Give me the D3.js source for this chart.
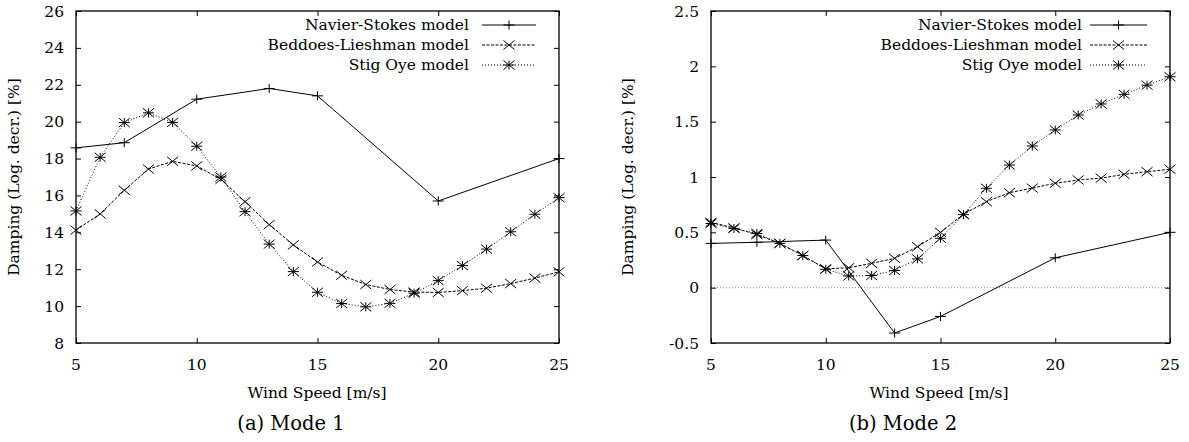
<!DOCTYPE html>
<html lang="en">
<head>
    <meta charset="UTF-8">
    <title>Damping vs wind speed</title>
    <script src="https://d3js.org/d3.v7.min.js"></script>
    <style>
        body { margin: 0; background: #fff; }
        path.line { fill: none; stroke: #000; stroke-width: 1; }
        path.mark { fill: none; stroke: #000; stroke-width: 1; }
    </style>
</head>
<body>
<script>
    const width  = 1189;
    const height = 442;

    // wind speeds
    const windNS   = [5, 7, 10, 13, 15, 20, 25];
    const windFine = [5, 6, 7, 8, 9, 10, 11, 12, 13, 14, 15, 16, 17, 18, 19, 20, 21, 22, 23, 24, 25];
    const xTicks   = [5, 10, 15, 20, 25];

    // mode 1
    const mode1NS   = [18.58, 18.86, 21.22, 21.8, 21.4, 15.7, 18.0];
    const mode1BL   = [14.12, 15.0, 16.28, 17.43, 17.85, 17.6, 16.87, 15.66, 14.42, 13.32, 12.39, 11.67, 11.17, 10.9, 10.76, 10.74, 10.84, 10.97, 11.22, 11.52, 11.86];
    const mode1Oye  = [15.16, 18.07, 19.95, 20.48, 19.96, 18.67, 17.0, 15.12, 13.36, 11.87, 10.75, 10.14, 9.96, 10.15, 10.7, 11.38, 12.2, 13.09, 14.03, 14.98, 15.88];
    const mode1YTicks = [8, 10, 12, 14, 16, 18, 20, 22, 24, 26];

    // mode 2
    const mode2NS   = [0.40, 0.41, 0.43, -0.41, -0.26, 0.27, 0.50];
    const mode2BL   = [0.59, 0.54, 0.48, 0.40, 0.29, 0.17, 0.18, 0.22, 0.265, 0.37, 0.50, 0.663, 0.777, 0.858, 0.90, 0.943, 0.973, 0.99, 1.024, 1.048, 1.07];
    const mode2Oye  = [0.58, 0.535, 0.49, 0.40, 0.29, 0.166, 0.106, 0.11, 0.155, 0.26, 0.446, 0.66, 0.898, 1.108, 1.28, 1.425, 1.56, 1.66, 1.747, 1.83, 1.906];
    const mode2YTicks = [-0.5, 0, 0.5, 1, 1.5, 2, 2.5];

    const seriesNames = ["Navier-Stokes model", "Beddoes-Lieshman model", "Stig Oye model"];

    const font = "'DejaVu Serif', serif";

    const svg = d3.select("body").append("svg").attr("width", width).attr("height", height);

    function label(g, x, y, str, anchor, rot, size) {
        g.append("text")
         .attr("transform", "translate(" + [x, y] + ")" + (rot ? " rotate(" + rot + ")" : ""))
         .attr("text-anchor", anchor || "middle")
         .attr("font-family", font)
         .attr("font-size", size || 15.5)
         .attr("fill", "#000")
         .text(str);
    }

    function marker(g, type, x, y) {
        const w = 5.5, h = 4.5;
        let d = "";
        if (type === "plus" || type === "star") d += "M" + (x - w) + "," + y + "H" + (x + w) + "M" + x + "," + (y - h) + "V" + (y + h);
        if (type === "cross" || type === "star") d += "M" + (x - w) + "," + (y - h) + "L" + (x + w) + "," + (y + h) + "M" + (x - w) + "," + (y + h) + "L" + (x + w) + "," + (y - h);
        g.append("path").attr("class", "mark").attr("d", d);
    }

    const styles = [
        {dash: null,    mark: "plus"},
        {dash: "3,1.5", mark: "cross"},
        {dash: "1,2",   mark: "star"}
    ];

    function panel(opt) {
        const g = svg.append("g");
        const x = d3.scaleLinear().domain([5, 25]).range([opt.left, opt.right]);
        const y = d3.scaleLinear().domain(opt.yDomain).range([343, 11]);

        // zero line
        if (opt.zero) {
            g.append("line")
             .attr("x1", opt.left).attr("x2", opt.right)
             .attr("y1", y(0)).attr("y2", y(0))
             .attr("stroke", "#888").attr("stroke-width", 1).attr("stroke-dasharray", "1,2");
        }

        // axes with inward ticks on all four sides
        const bottom = g.append("g").attr("transform", "translate(0,343)")
            .call(d3.axisBottom(x).tickValues(xTicks).tickSize(-5).tickSizeOuter(0).tickFormat(""));
        const top = g.append("g").attr("transform", "translate(0,11)")
            .call(d3.axisTop(x).tickValues(xTicks).tickSize(-5).tickSizeOuter(0).tickFormat(""));
        const left = g.append("g").attr("transform", "translate(" + opt.left + ",0)")
            .call(d3.axisLeft(y).tickValues(opt.yTicks).tickSize(-5).tickSizeOuter(0).tickFormat(""));
        const right = g.append("g").attr("transform", "translate(" + opt.right + ",0)")
            .call(d3.axisRight(y).tickValues(opt.yTicks).tickSize(-5).tickSizeOuter(0).tickFormat(""));
        [bottom, top, left, right].forEach(a => {
            a.select(".domain").remove();
            a.selectAll("line").attr("stroke", "#000");
        });

        g.append("rect")
         .attr("x", opt.left).attr("y", 11)
         .attr("width", opt.right - opt.left).attr("height", 332)
         .attr("fill", "none").attr("stroke", "#000").attr("stroke-width", 1.3);

        xTicks.forEach(v => label(g, x(v), 370, String(v)));
        opt.yTicks.forEach(v => label(g, opt.left - 12, y(v) + 5.5, String(v), "end"));

        label(g, opt.xLabelX, 398, "Wind Speed [m/s]");
        label(g, opt.yLabelX, 177, "Damping (Log. decr.) [%]", "middle", -90);
        label(g, opt.capX, 430, opt.caption, "middle", 0, 19.5);

        const line = d3.line().x(d => x(d[0])).y(d => y(d[1]));
        opt.series.forEach((s, i) => {
            const pts = s.xs.map((v, j) => [v, s.ys[j]]);
            g.append("path").attr("class", "line")
             .attr("d", line(pts))
             .attr("stroke-dasharray", styles[i].dash);
            pts.forEach(p => marker(g, styles[i].mark, x(p[0]), y(p[1])));
        });

        // legend
        seriesNames.forEach((name, i) => {
            const ly = 25 + i * 20;
            label(g, opt.legText, ly + 5, name, "end");
            g.append("line")
             .attr("x1", opt.legLine[0]).attr("x2", opt.legLine[1])
             .attr("y1", ly).attr("y2", ly)
             .attr("stroke", "#000").attr("stroke-width", 1)
             .attr("stroke-dasharray", styles[i].dash);
            marker(g, styles[i].mark, (opt.legLine[0] + opt.legLine[1]) / 2, ly);
        });
    }

    panel({
        left: 76, right: 559, yDomain: [8, 26], yTicks: mode1YTicks,
        xLabelX: 317, yLabelX: 19, capX: 291, caption: "(a) Mode 1",
        legText: 469, legLine: [482, 536],
        series: [
            {xs: windNS, ys: mode1NS},
            {xs: windFine, ys: mode1BL},
            {xs: windFine, ys: mode1Oye}
        ]
    });

    panel({
        left: 711, right: 1170, yDomain: [-0.5, 2.5], yTicks: mode2YTicks, zero: true,
        xLabelX: 939, yLabelX: 633, capX: 903, caption: "(b) Mode 2",
        legText: 1082, legLine: [1090, 1147],
        series: [
            {xs: windNS, ys: mode2NS},
            {xs: windFine, ys: mode2BL},
            {xs: windFine, ys: mode2Oye}
        ]
    });
</script>
</body>
</html>
